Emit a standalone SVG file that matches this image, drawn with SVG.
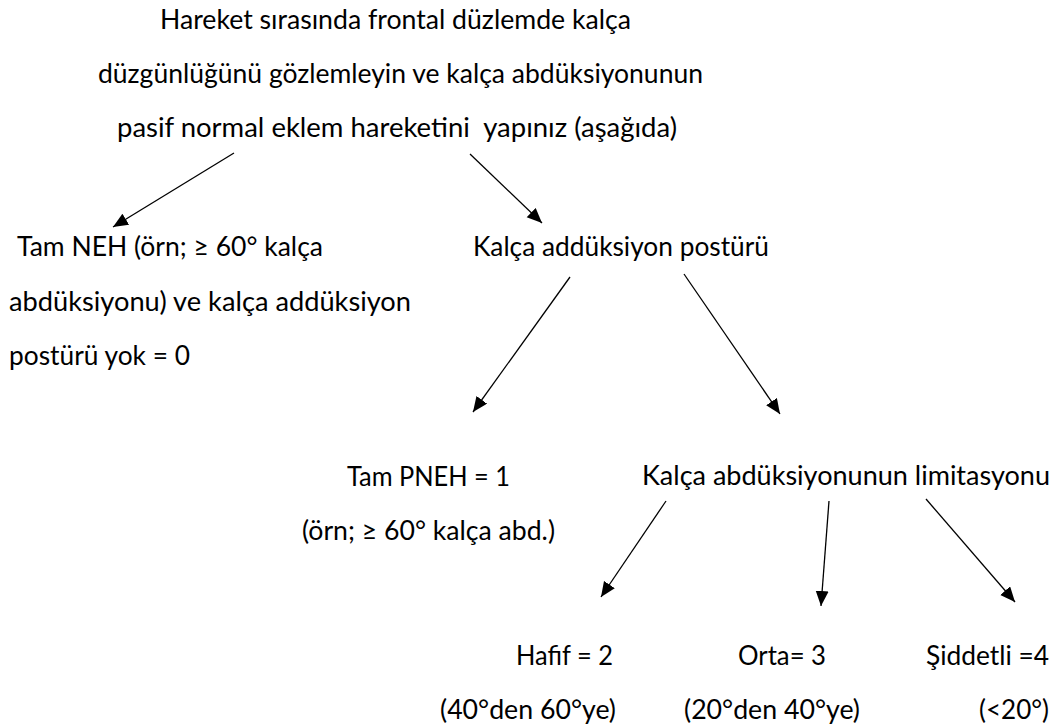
<svg xmlns="http://www.w3.org/2000/svg" width="1058" height="725" viewBox="0 0 1058 725">
<defs>
<marker id="ah" markerUnits="userSpaceOnUse" markerWidth="16" markerHeight="14" refX="15" refY="6.5" orient="auto">
<path d="M0,0 L15,6.5 L0,13 Z" fill="#000"/>
</marker>
<style>
text{font-family:Lato,"Open Sans","Liberation Sans",sans-serif;font-size:26px;fill:#000}
.c line{stroke:#000;stroke-width:1.3;marker-end:url(#ah)}
</style>
</defs>
<rect width="1058" height="725" fill="#fff"/>
<g id="n-top">
<text x="160" y="29" textLength="471" lengthAdjust="spacingAndGlyphs">Hareket sırasında frontal düzlemde kalça</text>
<text x="98" y="83" textLength="605" lengthAdjust="spacingAndGlyphs">düzgünlüğünü gözlemleyin ve kalça abdüksiyonunun</text>
<text x="117" y="137" textLength="560" lengthAdjust="spacingAndGlyphs" xml:space="preserve">pasif normal eklem hareketini  yapınız (aşağıda)</text>
</g>
<g id="n-tamneh">
<text x="17" y="256" textLength="306" lengthAdjust="spacingAndGlyphs">Tam NEH (örn; ≥ 60° kalça</text>
<text x="9" y="311" textLength="402" lengthAdjust="spacingAndGlyphs">abdüksiyonu) ve kalça addüksiyon</text>
<text x="9" y="365" textLength="181" lengthAdjust="spacingAndGlyphs">postürü yok = 0</text>
</g>
<g id="n-addpost">
<text x="473" y="256" textLength="296" lengthAdjust="spacingAndGlyphs">Kalça addüksiyon postürü</text>
</g>
<g id="n-tampneh">
<text x="347" y="486" textLength="163" lengthAdjust="spacingAndGlyphs">Tam PNEH = 1</text>
<text x="302" y="540" textLength="253" lengthAdjust="spacingAndGlyphs">(örn; ≥ 60° kalça abd.)</text>
</g>
<g id="n-limit">
<text x="642" y="485" textLength="408" lengthAdjust="spacingAndGlyphs">Kalça abdüksiyonunun limitasyonu</text>
</g>
<g id="n-hafif">
<text x="516" y="665" textLength="97" lengthAdjust="spacingAndGlyphs">Hafif = 2</text>
<text x="440" y="719" textLength="176" lengthAdjust="spacingAndGlyphs">(40°den 60°ye)</text>
</g>
<g id="n-orta">
<text x="738" y="665" textLength="88" lengthAdjust="spacingAndGlyphs">Orta= 3</text>
<text x="684" y="719" textLength="176" lengthAdjust="spacingAndGlyphs">(20°den 40°ye)</text>
</g>
<g id="n-siddetli">
<text x="926" y="665" textLength="123" lengthAdjust="spacingAndGlyphs">Şiddetli =4</text>
<text x="979" y="719" textLength="70" lengthAdjust="spacingAndGlyphs">(&lt;20°)</text>
</g>
<g id="connectors" class="c">
<line x1="234" y1="153" x2="113" y2="227"/>
<line x1="470" y1="154" x2="542" y2="223"/>
<line x1="570" y1="277" x2="473" y2="412"/>
<line x1="684" y1="274" x2="780" y2="414"/>
<line x1="666" y1="501" x2="601" y2="597"/>
<line x1="829" y1="501" x2="821" y2="606"/>
<line x1="926" y1="499" x2="1015" y2="602"/>
</g>
</svg>
